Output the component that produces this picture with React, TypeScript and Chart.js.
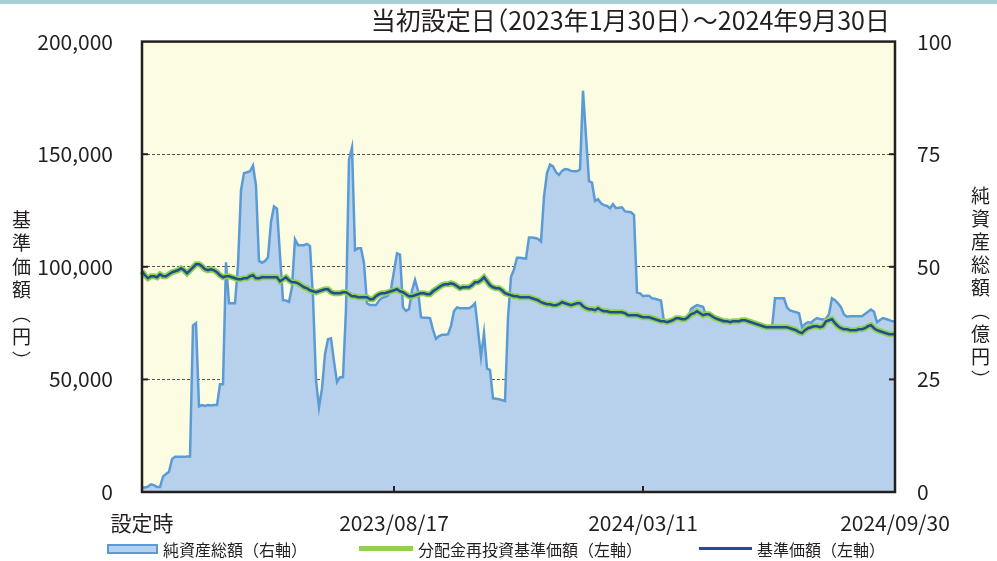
import React, { useEffect, useRef } from 'react';
import { Chart, registerables } from 'chart.js';
Chart.register(...registerables);

// x-axis: one category per sampled trading point; only these are labelled
const tickIndex = [0, 84, 167, 251];
const tickLabels = ['設定時', '2023/08/17', '2024/03/11', '2024/09/30'];

// 純資産総額（億円, right axis)
const netAssets = [
  1.0, 1.0, 1.2, 1.7, 1.5, 1.1, 1.1, 3.4, 4.0, 4.5,
  7.3, 7.8, 7.8, 7.8, 7.8, 7.9, 7.9, 37.0, 37.5, 19.0,
  19.3, 19.1, 19.3, 19.2, 19.3, 19.3, 23.9, 23.9, 51.0, 41.9,
  41.9, 41.9, 50.4, 67.0, 70.8, 71.0, 71.2, 72.5, 68.0, 51.3,
  50.9, 51.3, 52.1, 60.0, 63.4, 62.9, 52.5, 42.6, 42.5, 42.2,
  45.5, 56.1, 54.8, 54.8, 54.8, 55.1, 54.6, 43.2, 24.9, 18.8,
  23.0, 30.6, 33.9, 34.1, 29.0, 24.4, 25.5, 25.5, 40.6, 73.8,
  76.5, 53.7, 54.1, 54.1, 50.8, 41.9, 41.5, 41.5, 41.5, 42.5,
  43.1, 43.3, 43.6, 45.0, 49.0, 53.0, 52.7, 41.0, 40.2, 40.6,
  44.7, 47.1, 44.7, 38.8, 38.7, 38.7, 38.6, 36.0, 34.0, 34.6,
  34.9, 34.9, 35.0, 36.9, 40.2, 41.0, 40.8, 40.8, 40.8, 40.8,
  41.2, 41.9, 36.0, 30.0, 35.3, 27.4, 27.1, 20.8, 20.7, 20.6,
  20.4, 20.2, 38.6, 47.8, 49.4, 52.0, 52.0, 51.9, 51.8, 56.5,
  56.5, 56.4, 56.2, 55.6, 65.6, 70.8, 72.7, 72.3, 71.0, 70.4,
  71.3, 71.7, 71.6, 71.3, 71.2, 71.2, 71.6, 89.1, 79.0, 69.0,
  68.7, 64.6, 65.0, 64.1, 63.7, 63.5, 63.0, 63.9, 63.0, 63.1,
  63.2, 62.3, 62.2, 62.1, 61.5, 44.3, 44.1, 43.5, 43.6, 43.6,
  43.0, 42.9, 42.7, 42.5, 37.7, 37.5, 37.7, 37.9, 38.4, 38.4,
  38.1, 38.1, 38.6, 40.6, 41.1, 41.5, 41.3, 41.1, 39.3, 39.2,
  38.8, 38.4, 38.1, 37.9, 37.7, 37.7, 37.5, 37.7, 37.7, 37.7,
  37.9, 37.9, 37.7, 37.5, 37.3, 37.0, 36.8, 36.6, 36.4, 36.4,
  36.4, 43.0, 43.0, 43.0, 43.0, 41.0, 40.3, 40.1, 39.9, 39.7,
  36.6, 37.3, 37.7, 37.6, 38.2, 38.6, 38.4, 38.3, 38.5, 39.5,
  43.0, 42.6, 41.9, 41.0, 39.4, 38.9, 39.0, 39.0, 39.0, 39.0,
  39.0, 39.5, 40.0, 40.5, 40.0, 37.7, 38.2, 38.6, 38.4, 38.2,
  37.9, 37.9,
];

// 基準価額（円, left axis)
const baseNav = [
  98010, 96240, 94910, 95800, 95800, 95350, 96680, 95800, 95800, 96680,
  97570, 98010, 98460, 99340, 98460, 97130, 98460, 99790, 101120, 101120,
  100230, 98900, 98460, 98900, 98460, 97570, 96240, 95350, 95800, 95800,
  95350, 94910, 94470, 94470, 94910, 94910, 95800, 96240, 94910, 94910,
  95350, 95350, 95350, 95350, 95350, 95350, 93580, 94470, 95350, 94020,
  93140, 93140, 92690, 91800, 90920, 90470, 89590, 89140, 88700, 89140,
  89590, 90030, 90030, 88700, 88260, 88260, 88260, 88700, 88700, 87810,
  86930, 86930, 86480, 86480, 86480, 86480, 85600, 85600, 86930, 87810,
  88260, 88260, 88700, 89140, 89590, 90030, 89140, 88700, 87810, 86930,
  86930, 87370, 87810, 88260, 88260, 87810, 87810, 89140, 90030, 90920,
  91800, 92250, 92250, 92690, 92250, 91360, 90470, 90920, 90920, 90920,
  91800, 93140, 93140, 94020, 95350, 93580, 91800, 90920, 90470, 90470,
  89590, 88260, 87810, 87370, 86930, 86930, 86480, 86480, 86480, 86480,
  86040, 85600, 85150, 84270, 83820, 83380, 83380, 82930, 82930, 83380,
  84270, 83820, 83380, 82930, 83380, 83820, 83820, 82490, 81600, 81160,
  81160, 80720, 81600, 80720, 80270, 80270, 79830, 79830, 79830, 79830,
  79830, 79390, 78500, 78500, 78500, 78500, 78060, 77610, 77610, 77610,
  77170, 76730, 76280, 75840, 75840, 75400, 75840, 76280, 77170, 77170,
  76730, 76730, 77610, 78940, 79390, 80270, 79390, 78500, 78940, 78940,
  78060, 77170, 76730, 76280, 75840, 75840, 75400, 75840, 75840, 75840,
  76280, 76280, 75840, 75400, 74950, 74510, 74060, 73620, 73180, 73180,
  73180, 73180, 73180, 73180, 73180, 73180, 72730, 72290, 71850, 70960,
  70520, 71850, 72730, 73180, 73620, 73620, 73180, 73620, 75840, 76280,
  76730, 74950, 73620, 72730, 72290, 72290, 71850, 71850, 71850, 72290,
  72290, 72730, 73620, 74060, 72730, 71850, 71400, 70960, 70520, 70070,
  70070, 70070,
];

// 分配金再投資基準価額（円, left axis) — coincides with the base NAV in the picture
const reinvestedNav = [...baseNav];

const leftTickMarks = [50000, 100000, 150000];
const rightTickMarks = [25, 50, 75];

const FONT = "'Noto Sans CJK JP', 'Noto Sans', sans-serif";
const TEXT = '#231F20';

const framePlugin = {
  id: 'frame',
  beforeDraw(chart: any) {
    const { ctx, chartArea: a } = chart;
    ctx.save();
    ctx.fillStyle = '#FCFCE3';
    ctx.fillRect(a.left, a.top, a.right - a.left, a.bottom - a.top);
    ctx.restore();
  },
  afterDatasetsDraw(chart: any) {
    const { ctx, chartArea: a, scales } = chart;
    ctx.save();
    ctx.strokeStyle = TEXT;
    ctx.lineWidth = 2.5;
    ctx.strokeRect(a.left, a.top, a.right - a.left, a.bottom - a.top);
    ctx.lineWidth = 2;
    const seg = (x1: number, y1: number, x2: number, y2: number) => {
      ctx.beginPath();
      ctx.moveTo(x1, y1);
      ctx.lineTo(x2, y2);
      ctx.stroke();
    };
    leftTickMarks.forEach((v) => {
      const y = scales.y.getPixelForValue(v);
      seg(a.left, y, a.left + 6, y);
    });
    rightTickMarks.forEach((v) => {
      const y = scales.y2.getPixelForValue(v);
      seg(a.right - 6, y, a.right, y);
    });
    tickIndex.slice(1, -1).forEach((i) => {
      const x = scales.x.getPixelForValue(i);
      seg(x, a.bottom - 6, x, a.bottom);
    });
    ctx.restore();
  },
};

export default function App() {
  const ref = useRef<HTMLCanvasElement>(null);

  useEffect(() => {
    document.body.style.margin = '0';
    const labels = netAssets.map((_, i) => {
      const k = tickIndex.indexOf(i);
      return k >= 0 ? tickLabels[k] : '';
    });
    const chart = new Chart(ref.current as HTMLCanvasElement, {
      type: 'line',
      data: {
        labels,
        datasets: [
          {
            label: '基準価額（左軸）',
            data: baseNav,
            yAxisID: 'y',
            borderColor: '#1F4E96',
            borderWidth: 2.5,
            pointRadius: 0,
            fill: false,
            tension: 0,
          },
          {
            label: '分配金再投資基準価額（左軸）',
            data: reinvestedNav,
            yAxisID: 'y',
            borderColor: '#92D050',
            borderWidth: 6,
            pointRadius: 0,
            fill: false,
            tension: 0,
          },
          {
            label: '純資産総額（右軸）',
            data: netAssets,
            yAxisID: 'y2',
            borderColor: '#5B9BD5',
            backgroundColor: '#B7D0EC',
            borderWidth: 2.5,
            pointRadius: 0,
            fill: 'origin',
            tension: 0,
          },
        ],
      },
      options: {
        responsive: false,
        animation: false,
        devicePixelRatio: 1,
        layout: { padding: { top: 39, left: 0, right: 0, bottom: 0 } },
        plugins: { legend: { display: false }, tooltip: { enabled: false } },
        scales: {
          x: {
            type: 'category',
            grid: { display: false, drawTicks: false },
            border: { display: false },
            ticks: {
              autoSkip: false,
              maxRotation: 0,
              padding: 18,
              color: TEXT,
              font: { family: FONT, size: 21 },
            },
            afterFit: (s: any) => {
              s.height = 69;
            },
          },
          y: {
            position: 'left',
            min: 0,
            max: 200000,
            grid: {
              drawTicks: false,
              lineWidth: 1,
              color: (c: any) =>
                c.tick && c.tick.value > 0 && c.tick.value < 200000 ? '#555' : 'rgba(0,0,0,0)',
            },
            border: { display: false, dash: [3, 2] },
            ticks: {
              stepSize: 50000,
              padding: 29,
              color: TEXT,
              font: { family: FONT, size: 21 },
              callback: (v: any) => Number(v).toLocaleString('en-US'),
            },
            afterFit: (s: any) => {
              s.width = 142;
            },
          },
          y2: {
            position: 'right',
            min: 0,
            max: 100,
            grid: { display: false, drawTicks: false },
            border: { display: false },
            ticks: {
              stepSize: 25,
              padding: 22,
              color: TEXT,
              font: { family: FONT, size: 21 },
            },
            afterFit: (s: any) => {
              s.width = 102;
            },
          },
        },
      },
      plugins: [framePlugin],
    });
    return () => chart.destroy();
  }, []);

  const txt: React.CSSProperties = {
    position: 'absolute',
    fontFamily: FONT,
    color: TEXT,
    whiteSpace: 'nowrap',
    lineHeight: 1,
  };

  return (
    <div style={{ position: 'relative', width: 997, height: 561, background: '#fff', overflow: 'hidden' }}>
      <div style={{ position: 'absolute', left: 0, top: 0, width: 997, height: 4, background: '#A7CFD6' }} />
      <canvas ref={ref} width={997} height={561} style={{ position: 'absolute', left: 0, top: 0, width: 997, height: 561 }} />
      <div style={{ ...txt, right: 107, top: 7, fontSize: 25, fontFeatureSettings: '"halt"' }}>当初設定日（2023年1月30日）～2024年9月30日</div>
      <div style={{ ...txt, left: 12, top: 210, fontSize: 19, letterSpacing: 4.5, writingMode: 'vertical-rl' }}>基準価額（円）</div>
      <div style={{ ...txt, left: 971, top: 186, fontSize: 19, letterSpacing: 4, writingMode: 'vertical-rl' }}>純資産総額（億円）</div>
      <div style={{ position: 'absolute', left: 107, top: 544, width: 51, height: 10, boxSizing: 'border-box', background: '#B7D0EC', border: '2px solid #5B9BD5' }} />
      <div style={{ ...txt, left: 163, top: 541, fontSize: 16 }}>純資産総額（右軸）</div>
      <div style={{ position: 'absolute', left: 359, top: 546, width: 54, height: 5, background: '#92D050' }} />
      <div style={{ ...txt, left: 418, top: 541, fontSize: 16 }}>分配金再投資基準価額（左軸）</div>
      <div style={{ position: 'absolute', left: 699, top: 547, width: 53, height: 3, background: '#1F4E96' }} />
      <div style={{ ...txt, left: 757, top: 541, fontSize: 16 }}>基準価額（左軸）</div>
    </div>
  );
}
